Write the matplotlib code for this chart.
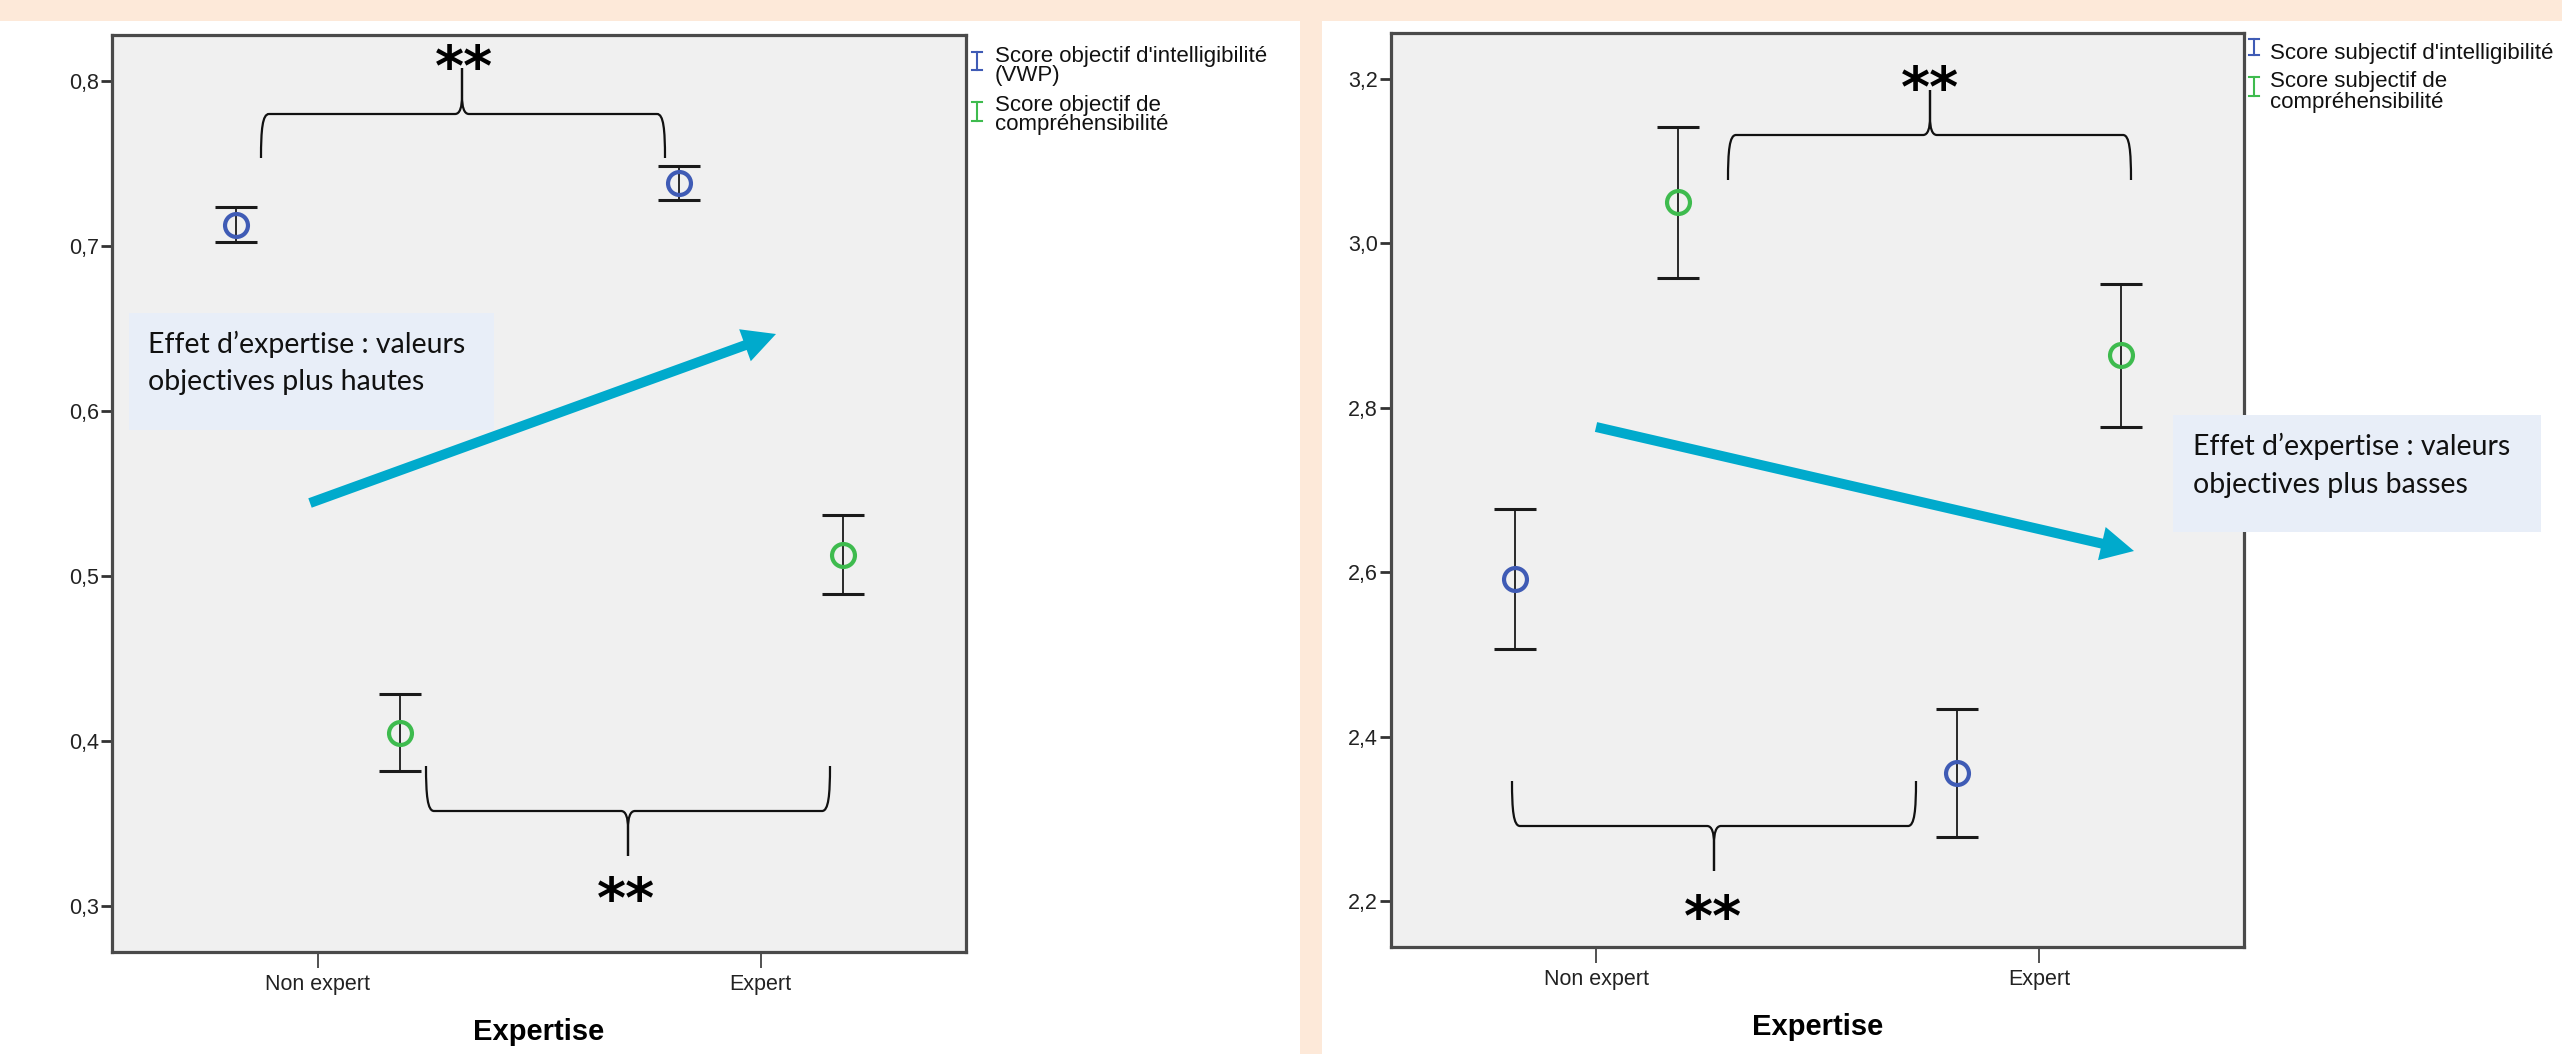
import matplotlib
matplotlib.use('Agg')
import matplotlib.pyplot as plt
import numpy as np
from matplotlib.path import Path
from matplotlib.patches import PathPatch, Rectangle, FancyArrow
import matplotlib.transforms as mtransforms
from matplotlib.lines import Line2D

W, H = 2562, 1054
DPI = 100

# ---------------- data ----------------
categories = ['Non expert', 'Expert']
x_title = 'Expertise'

obj_intel_mean = [0.713, 0.738]
obj_intel_ci = [0.0106, 0.0102]
obj_compr_mean = [0.405, 0.513]
obj_compr_ci = [0.0233, 0.0237]
obj_yticks = [0.3, 0.4, 0.5, 0.6, 0.7, 0.8]
obj_legend = [["Score objectif d'intelligibilité", "(VWP)"],
              ["Score objectif de", "compréhensibilité"]]

subj_intel_mean = [2.592, 2.356]
subj_intel_ci = [0.085, 0.078]
subj_compr_mean = [3.050, 2.864]
subj_compr_ci = [0.0916, 0.087]
subj_yticks = [2.2, 2.4, 2.6, 2.8, 3.0, 3.2]
subj_legend = [["Score subjectif d'intelligibilité"],
               ["Score subjectif de", "compréhensibilité"]]

note_left = ["Effet d’expertise : valeurs", "objectives plus hautes"]
note_right = ["Effet d’expertise : valeurs", "objectives plus basses"]
signif = "**"

# ---------------- style ----------------
BLUE = '#3F5BB5'
GREEN = '#3EBB4E'
PEACH = '#FDE9D9'
ARROW = '#00AACC'
BOXC = '#E8EEF8'
FACE = '#F0F0F0'

plt.rcParams['font.family'] = ['Liberation Sans', 'DejaVu Sans']

fig = plt.figure(figsize=(W / DPI, H / DPI), dpi=DPI)
fig.patch.set_facecolor('white')
pix = mtransforms.Affine2D().scale(1 / W, -1 / H).translate(0, 1) + fig.transFigure

# peach separators
fig.add_artist(Rectangle((0, 0), W, 21, transform=pix, color=PEACH, zorder=-5, lw=0))
fig.add_artist(Rectangle((1300, 0), 22, H, transform=pix, color=PEACH, zorder=-5, lw=0))


def panel(ax, m_blue, c_blue, m_green, c_green, ylim, yticks):
    x = np.arange(len(categories))
    off = 0.185
    for xs, m, c, col in [(x - off, m_blue, c_blue, BLUE), (x + off, m_green, c_green, GREEN)]:
        ax.errorbar(xs, m, yerr=c, fmt='none', ecolor='#1a1a1a', elinewidth=1.3,
                    capsize=15, capthick=2.2, zorder=2)
        ax.plot(xs, m, 'o', ms=16.5, mfc='none', mec=col, mew=3.0, zorder=3)
    ax.set_facecolor(FACE)
    ax.set_xlim(-0.464, 1.463)
    ax.set_ylim(*ylim)
    ax.set_xticks(x)
    ax.set_xticklabels(categories)
    ax.set_yticks(yticks)
    ax.set_yticklabels([f'{v:.1f}'.replace('.', ',') for v in yticks])
    for s in ax.spines.values():
        s.set_color('#4a4a4a')
        s.set_linewidth(2.3)
    ax.tick_params(axis='y', length=8, width=2, color='#333333', labelsize=15.5,
                   labelcolor='#222222', pad=1.5)
    ax.tick_params(axis='x', length=11.5, width=1.2, color='#333333', labelsize=15.5,
                   labelcolor='#222222', pad=4)
    ax.set_xlabel(x_title, fontsize=21, fontweight='bold')


axL = fig.add_axes([112 / W, (H - 952) / H, 854 / W, 917 / H])
panel(axL, obj_intel_mean, obj_intel_ci, obj_compr_mean, obj_compr_ci, (0.2721, 0.8279), obj_yticks)
axL.xaxis.set_label_coords(0.5, -66 / 917)

axR = fig.add_axes([1391 / W, (H - 947) / H, 853 / W, 914 / H])
panel(axR, subj_intel_mean, subj_intel_ci, subj_compr_mean, subj_compr_ci, (2.144, 3.256), subj_yticks)
axR.xaxis.set_label_coords(0.5, -66 / 914)


# ---------------- legends ----------------
def glyph(xc, y0, y1, color):
    for xs, ys in [([xc, xc], [y0, y1]), ([xc - 5, xc + 5], [y0, y0]), ([xc - 5, xc + 5], [y1, y1])]:
        fig.add_artist(Line2D(xs, ys, transform=pix, color=color, lw=1.5))


def legend(x_glyph, glyphs, x_text, labels, baselines):
    for (y0, y1), col in zip(glyphs, [BLUE, GREEN]):
        glyph(x_glyph, y0, y1, col)
    k = 0
    for lab in labels:
        for line in lab:
            fig.text(x_text, baselines[k], line, transform=pix, fontsize=16,
                     ha='left', va='baseline', color='#111111')
            k += 1


legend(977, [(52, 70), (102, 121)], 995, obj_legend, [62, 80.5, 111.5, 130])
legend(2254, [(39, 55), (77, 96)], 2270, subj_legend, [59, 87, 108])


# ---------------- braces & stars ----------------
def half_brace(xe, yb, yh, xm, yt):
    d = np.sign(xm - xe)
    verts = [(xe, yb),
             (xe, yh + (yb - yh) * 0.35), (xe + d * 1.5, yh), (xe + d * 8, yh),
             (xm - d * 7, yh),
             (xm - d * 2, yh), (xm, yh + (yt - yh) * 0.15), (xm, yh + (yt - yh) * 0.4),
             (xm, yt)]
    codes = [Path.MOVETO, Path.CURVE4, Path.CURVE4, Path.CURVE4, Path.LINETO,
             Path.CURVE4, Path.CURVE4, Path.CURVE4, Path.LINETO]
    fig.add_artist(PathPatch(Path(verts, codes), transform=pix, fill=False,
                             lw=1.6, edgecolor='#111111', zorder=5))


def brace(x0, x1, yb, yh, xm, yt):
    half_brace(x0, yb, yh, xm, yt)
    half_brace(x1, yb, yh, xm, yt)


brace(261, 665, 158, 114, 462, 68)
brace(426, 830, 766, 811, 628, 856)
brace(1728, 2131, 180, 135, 1930, 90)
brace(1512, 1916, 781, 826, 1714, 871)

for xs, yc in [(464, 54), (626, 886), (1930, 75), (1713, 904)]:
    fig.text(xs, yc + 31, signif, transform=pix, fontsize=40, family='DejaVu Sans',
             fontweight='bold', ha='center', va='baseline', color='black', zorder=6)

# ---------------- notes & arrows ----------------
fig.add_artist(Rectangle((129, 313), 365, 117, transform=pix, color=BOXC, lw=0, zorder=4))
fig.add_artist(Rectangle((2173, 415), 368, 117, transform=pix, color=BOXC, lw=0, zorder=4))
for (xt, bl), lines in [((148, [353, 390]), note_left), ((2193, [455, 493]), note_right)]:
    for b, line in zip(bl, lines):
        fig.text(xt, b, line, transform=pix, fontsize=20.5, family=['Lato', 'DejaVu Sans'],
                 ha='left', va='baseline', color='#111111', zorder=6)

for (xa, ya), (xb, yb) in [((310, 503), (776, 334)), ((1596, 427), (2134, 551))]:
    fig.add_artist(FancyArrow(xa, ya, xb - xa, yb - ya, width=10, head_width=34,
                              head_length=33, length_includes_head=True,
                              transform=pix, color=ARROW, lw=0, zorder=5))

fig.savefig('out.png', dpi=DPI)
